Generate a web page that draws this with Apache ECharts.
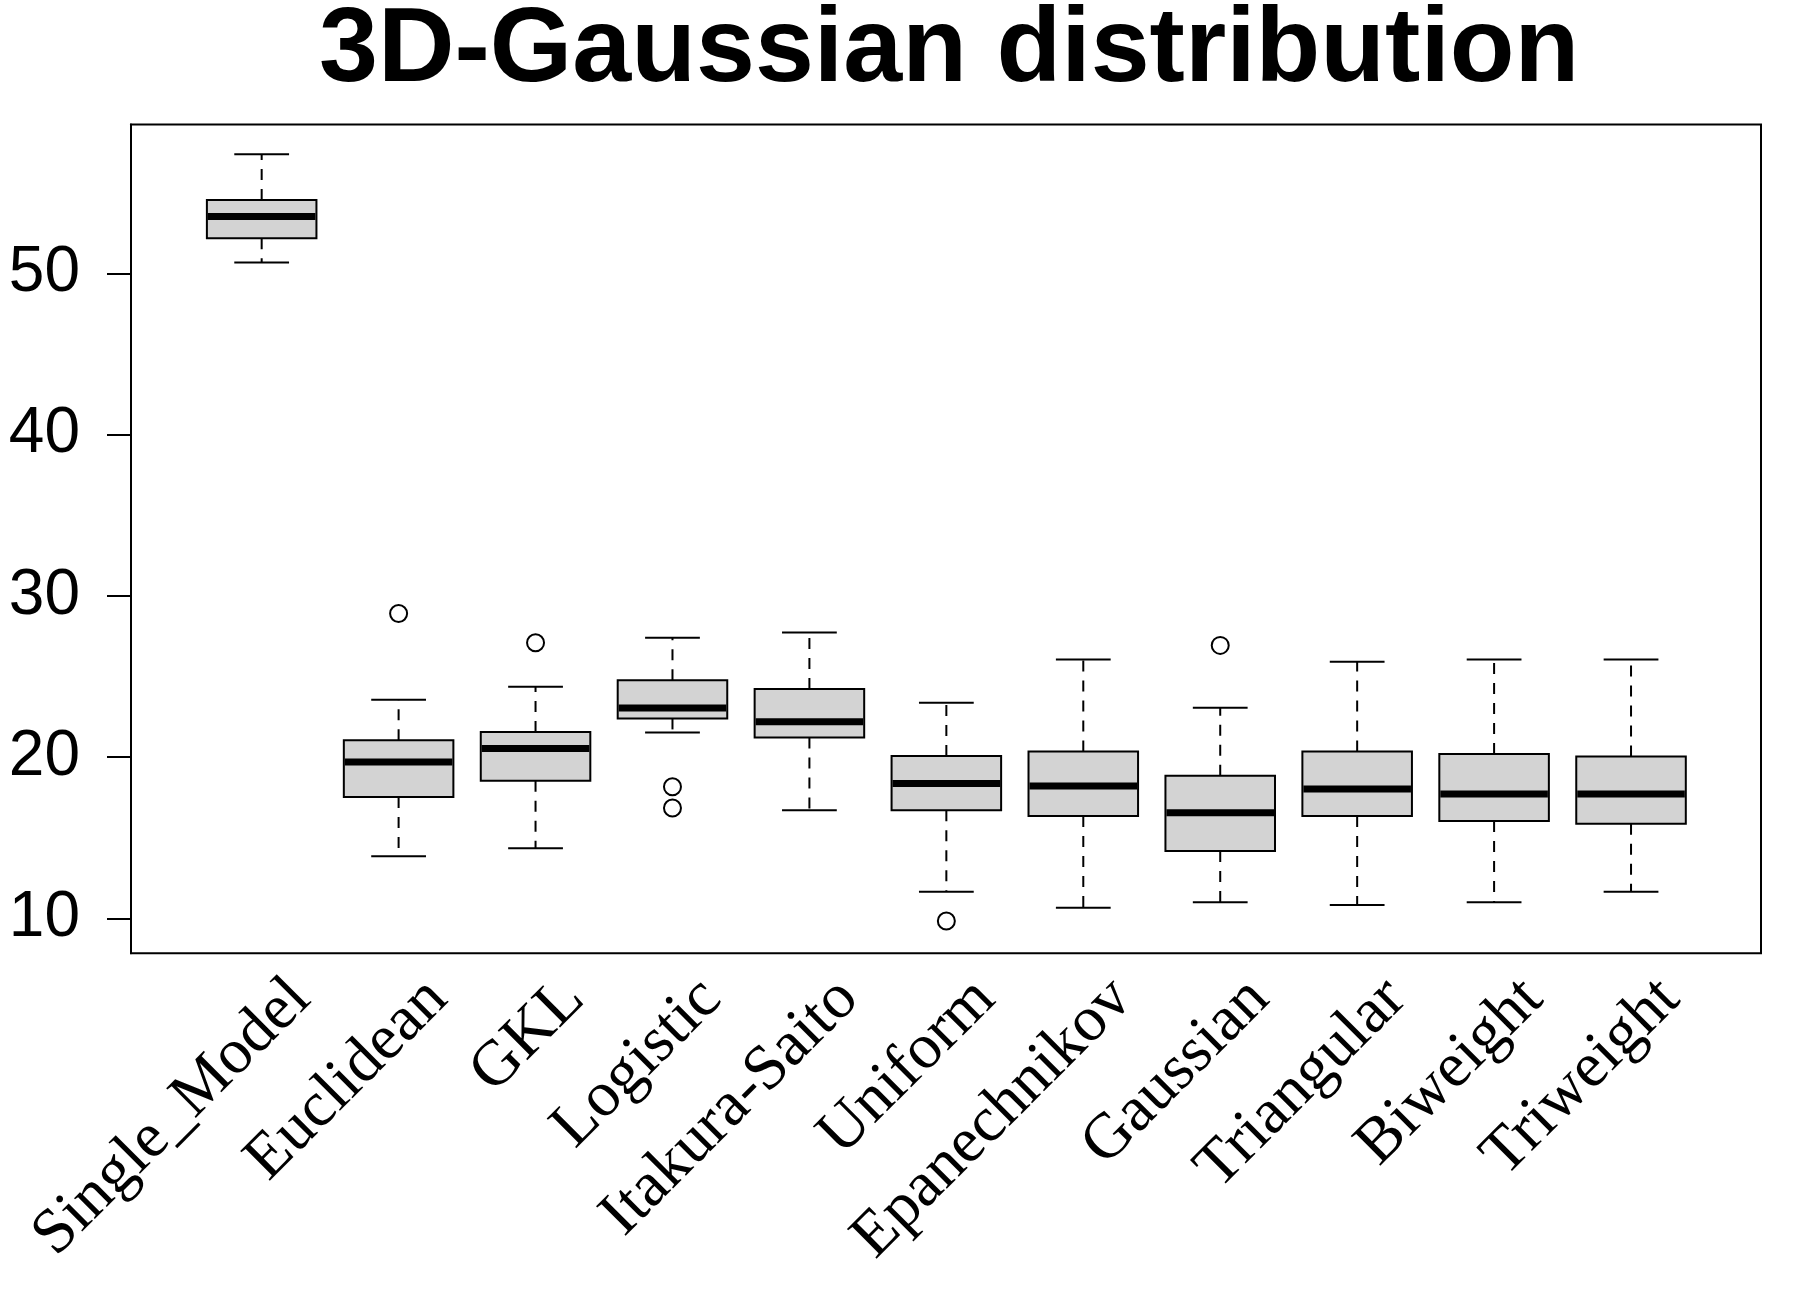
<!DOCTYPE html>
<html>
<head>
<meta charset="utf-8">
<script src="https://cdn.jsdelivr.net/npm/echarts@6/dist/echarts.min.js"></script>
<style>
html,body{margin:0;padding:0;background:#fff;}
#chart{width:1805px;height:1297px;}
</style>
</head>
<body>
<div id="chart"></div>
<script>
const categories = ['Single_Model','Euclidean','GKL','Logistic','Itakura-Saito','Uniform','Epanechnikov','Gaussian','Triangular','Biweight','Triweight'];
const mins    = [50.68, 13.85, 14.34, 21.53, 16.70, 11.65, 10.66, 10.99, 10.82, 10.99, 11.65];
const q1s     = [52.19, 17.52, 18.54, 22.40, 21.22, 16.70, 16.34, 14.17, 16.34, 16.03, 15.87];
const medians = [53.54, 19.69, 20.54, 23.04, 22.19, 18.37, 18.20, 16.55, 18.02, 17.71, 17.71];
const q3s     = [54.55, 21.04, 21.55, 24.76, 24.22, 20.07, 20.35, 18.85, 20.35, 20.19, 20.04];
const maxs    = [57.40, 23.56, 24.36, 27.40, 27.73, 23.37, 26.06, 23.06, 25.92, 26.06, 26.06];
const outlierCats = ['Euclidean','GKL','Logistic','Logistic','Uniform','Gaussian'];
const outlierVals = [28.91, 27.09, 18.16, 16.84, 9.83, 26.93];
const yTicks = [10, 20, 30, 40, 50];
const titleText = '3D-Gaussian distribution';

const boxData = categories.map((c, i) => [i, mins[i], q1s[i], medians[i], q3s[i], maxs[i]]);
const outlierData = outlierCats.map((c, i) => [categories.indexOf(c), outlierVals[i]]);

function renderBox(params, api) {
  const i = api.value(0);
  const pMin = api.coord([i, api.value(1)]);
  const pQ1 = api.coord([i, api.value(2)]);
  const pMed = api.coord([i, api.value(3)]);
  const pQ3 = api.coord([i, api.value(4)]);
  const pMax = api.coord([i, api.value(5)]);
  const cx = pMed[0];
  const bw = api.size([1, 0])[0] * 0.8;
  const cap = bw / 4;
  const lineStyle = {stroke: '#000', lineWidth: 2};
  return {
    type: 'group',
    children: [
      {type: 'line', shape: {x1: cx, y1: pQ3[1], x2: cx, y2: pMax[1]}, style: Object.assign({lineDash: [11, 9]}, lineStyle)},
      {type: 'line', shape: {x1: cx, y1: pQ1[1], x2: cx, y2: pMin[1]}, style: Object.assign({lineDash: [11, 9]}, lineStyle)},
      {type: 'line', shape: {x1: cx - cap, y1: pMax[1], x2: cx + cap, y2: pMax[1]}, style: lineStyle},
      {type: 'line', shape: {x1: cx - cap, y1: pMin[1], x2: cx + cap, y2: pMin[1]}, style: lineStyle},
      {type: 'rect', shape: {x: cx - bw / 2, y: pQ3[1], width: bw, height: pQ1[1] - pQ3[1]}, style: {fill: '#d3d3d3', stroke: '#000', lineWidth: 2}},
      {type: 'line', shape: {x1: cx - bw / 2 + 1, y1: pMed[1], x2: cx + bw / 2 - 1, y2: pMed[1]}, style: {stroke: '#000', lineWidth: 7}}
    ]
  };
}

const chart = echarts.init(document.getElementById('chart'), null, {renderer: 'canvas'});
chart.setOption({
  animation: false,
  backgroundColor: '#fff',
  title: {
    text: titleText,
    left: 319, top: -1, padding: 0,
    textStyle: {fontSize: 106, fontWeight: 'bold', fontFamily: 'Liberation Sans', color: '#000'}
  },
  grid: [
    {left: 193.2, right: 105.5, top: 124.5, bottom: 343.7, outerBoundsMode: 'none'},
    {left: 131, right: 44, top: 124.5, bottom: 343.7, show: true, borderColor: '#000', borderWidth: 2, backgroundColor: 'transparent', outerBoundsMode: 'none'},
    {left: 232.2, right: 66.5, top: 124.5, bottom: 343.7, outerBoundsMode: 'none'}
  ],
  xAxis: [
    {gridIndex: 0, type: 'category', data: categories, boundaryGap: true, show: false},
    {gridIndex: 1, type: 'value', show: false},
    {gridIndex: 2, type: 'category', data: categories, boundaryGap: true,
      axisLine: {show: false}, axisTick: {show: false}, splitLine: {show: false},
      axisLabel: {interval: 0, rotate: 45, margin: 36, fontSize: 64, fontFamily: 'Liberation Serif', color: '#000'}}
  ],
  yAxis: [
    {gridIndex: 0, type: 'value', min: 7.83, max: 59.24, offset: 62.2,
      axisLine: {show: true, lineStyle: {color: '#000', width: 2}},
      axisTick: {show: true, length: 24, lineStyle: {color: '#000', width: 2}, customValues: yTicks},
      axisLabel: {customValues: yTicks, fontSize: 64, fontFamily: 'Liberation Sans', color: '#000', margin: 51},
      splitLine: {show: false}},
    {gridIndex: 1, type: 'value', show: false},
    {gridIndex: 2, type: 'value', show: false}
  ],
  series: [
    {type: 'custom', xAxisIndex: 0, yAxisIndex: 0, data: boxData, renderItem: renderBox,
      encode: {x: 0, y: [1, 2, 3, 4, 5]}, silent: true},
    {type: 'scatter', xAxisIndex: 0, yAxisIndex: 0, data: outlierData, symbol: 'circle', symbolSize: 17,
      itemStyle: {color: 'rgba(0,0,0,0)', borderColor: '#000', borderWidth: 2, opacity: 1}, silent: true}
  ]
});
</script>
</body>
</html>
